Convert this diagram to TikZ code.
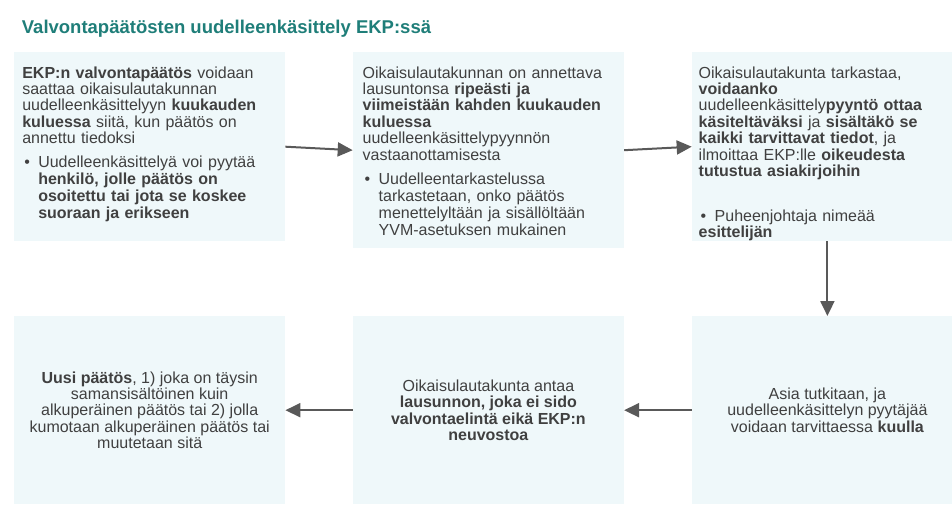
\documentclass[tikz,border=0pt]{standalone}
\usepackage{fontspec}
\setmainfont{Liberation Sans}
\usetikzlibrary{arrows.meta,calc}
\definecolor{boxfill}{HTML}{EFF8FA}
\definecolor{titlecol}{HTML}{1F7E79}
\definecolor{txtcol}{HTML}{404040}
\definecolor{arrcol}{HTML}{595959}
\newcommand\bxfont{\fontsize{16}{16.4}\selectfont\lineskiplimit=-20pt\parindent=0pt\parskip=0pt}
\newcommand\bxbul{\hangindent=16pt\hangafter=1\hspace*{2pt}\makebox[14pt][l]{•}}
\begin{document}
\begin{tikzpicture}[x=1pt,y=-1pt,
  box/.style={fill=boxfill, draw=none, minimum width=271pt, inner sep=0pt, anchor=north west},
  body/.style={inner sep=0pt, text width=262pt, align=left, text=txtcol, font=\bxfont, anchor=north west},
  cbody/.style={inner sep=0pt, align=center, text=txtcol, font=\bxfont},
  flow/.style={draw=arrcol, line width=2pt, -{Triangle[length=15pt,width=14pt]}}]
\clip (0,0) rectangle (952,508);
\fill[white] (0,0) rectangle (952,508);

\node[anchor=base west, inner sep=0pt, font=\fontsize{18.5}{20}\selectfont\bfseries, text=titlecol] (title) at (21.7,33.3) {Valvontapäätösten uudelleenkäsittely EKP:ssä};

\node[box, minimum height=189pt] (b1) at (14,52) {};
\node[box, minimum height=196pt] (b2) at (352.7,52) {};
\node[box, minimum height=189pt] (b3) at (691.7,52) {};
\node[box, minimum height=188pt] (b4) at (14,316) {};
\node[box, minimum height=188pt] (b5) at (352.7,316) {};
\node[box, minimum height=188pt] (b6) at (691.7,316) {};

\node[body] (t1) at (22.1,66) {\rule{0pt}{12pt}\textbf{EKP:n valvontapäätös} voidaan\newline
saattaa oikaisulautakunnan\newline
uudelleenkäsittelyyn \textbf{kuukauden}\newline
\textbf{kuluessa} siitä, kun päätös on\newline
annettu tiedoksi\par\vspace{7pt}
{\baselineskip=16.8pt\bxbul Uudelleenkäsittelyä voi pyytää\newline
\textbf{henkilö, jolle päätös on}\newline
\textbf{osoitettu tai jota se koskee}\newline
\textbf{suoraan ja erikseen}\par}};

\node[body] (t2) at (362.5,66) {\rule{0pt}{12pt}Oikaisulautakunnan on annettava\newline
lausuntonsa \textbf{ripeästi ja}\newline
\textbf{viimeistään kahden kuukauden}\newline
\textbf{kuluessa}\newline
uudelleenkäsittelypyynnön\newline
vastaanottamisesta\par\vspace{8pt}
{\baselineskip=16.8pt\bxbul Uudelleentarkastelussa\newline
tarkastetaan, onko päätös\newline
menettelyltään ja sisällöltään\newline
YVM-asetuksen mukainen\par}};

\node[body] (t3) at (698.5,66) {\rule{0pt}{12pt}Oikaisulautakunta tarkastaa,\newline
\textbf{voidaanko}\newline
uudelleenkäsittely\textbf{pyyntö ottaa}\newline
\textbf{käsiteltäväksi} ja \textbf{sisältäkö se}\newline
\textbf{kaikki tarvittavat tiedot}, ja\newline
ilmoittaa EKP:lle \textbf{oikeudesta}\newline
\textbf{tutustua asiakirjoihin}\par\vspace{28.5pt}
\bxbul Puheenjohtaja nimeää\newline
\textbf{esittelijän}};

\node[cbody] (t4) at (b4.center) {\textbf{Uusi päätös}, 1) joka on täysin\\
samansisältöinen kuin\\
alkuperäinen päätös tai 2) jolla\\
kumotaan alkuperäinen päätös tai\\
muutetaan sitä};

\node[cbody] (t5) at (b5.center) {Oikaisulautakunta antaa\\
\textbf{lausunnon, joka ei sido}\\
\textbf{valvontaelintä eikä EKP:n}\\
\textbf{neuvostoa}};

\node[cbody] (t6) at (b6.center) {Asia tutkitaan, ja\\
uudelleenkäsittelyn pyytäjää\\
voidaan tarvittaessa \textbf{kuulla}};

\draw[flow] (b1.east) -- (b2.west);
\draw[flow] (b2.east) -- (b3.west);
\draw[flow] (b3.south) -- (b6.north);
\draw[flow] (b6.west) -- (b5.east);
\draw[flow] (b5.west) -- (b4.east);
\end{tikzpicture}
\end{document}
